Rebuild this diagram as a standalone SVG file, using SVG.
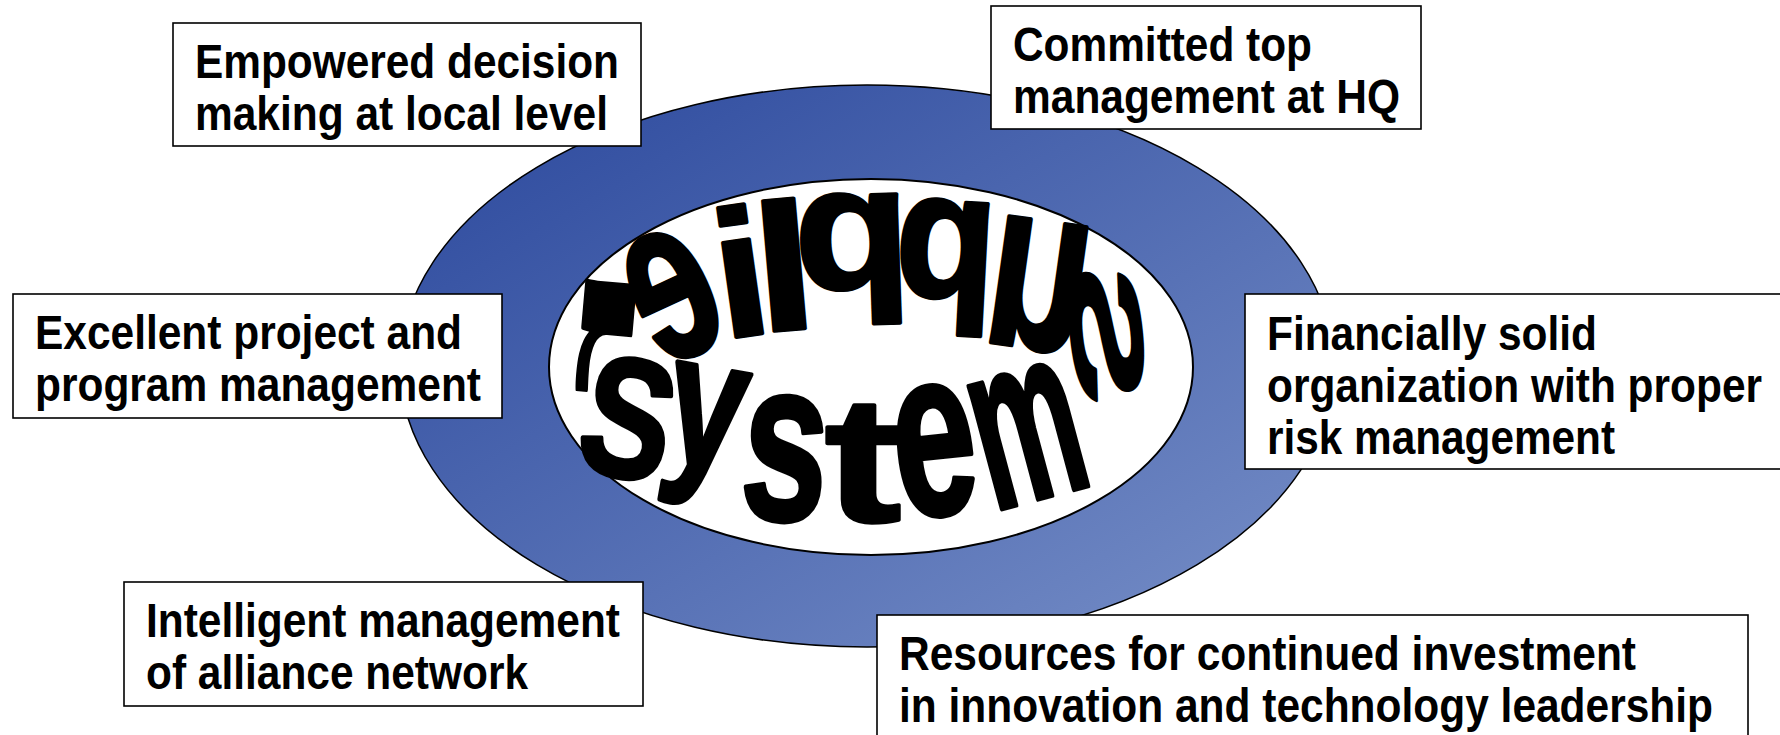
<svg xmlns="http://www.w3.org/2000/svg" width="1780" height="735" viewBox="0 0 1780 735">
<defs>
<linearGradient id="ringGrad" x1="0" y1="0" x2="1" y2="1">
<stop offset="0" stop-color="#2A479C"/>
<stop offset="1" stop-color="#7890C8"/>
</linearGradient>
<style>
.box{fill:#fff;stroke:#000;stroke-width:1.6}
.lbl{font-family:"Liberation Sans",Arial,sans-serif;font-weight:bold;font-size:48px;fill:#000}
.wa{font-family:"Liberation Sans",Arial,sans-serif;font-weight:bold;font-size:100px;fill:#000;stroke:#000;stroke-width:4;stroke-linejoin:round;vector-effect:non-scaling-stroke;text-anchor:middle}
</style>
</defs>
<rect width="1780" height="735" fill="#fff"/>
<g id="supplier-system">
<ellipse cx="867" cy="366" rx="467" ry="281" fill="url(#ringGrad)" stroke="#000" stroke-width="1.5"/>
<ellipse cx="871" cy="367" rx="322" ry="188" fill="#fff" stroke="#000" stroke-width="2"/>
<g id="wordart-system">
<text class="wa" y="36" transform="translate(629,416) rotate(12) scale(1.35,1.7)">S</text>
<text class="wa" y="15.5" transform="translate(702,438) rotate(10) scale(1.4,1.9)">y</text>
<text class="wa" y="26" transform="translate(785,460) rotate(4) scale(1.55,2.3)">s</text>
<text class="wa" y="34" transform="translate(863,460) scale(2.3,1.78)">t</text>
<text class="wa" y="26" transform="translate(935,452) rotate(-6) scale(1.5,2.4)">e</text>
<text class="wa" y="26.5" transform="translate(1028,436) rotate(-15) scale(1.2,2.4)">m</text>
</g>
<g id="wordart-supplier">
<text class="wa" y="36" transform="translate(1108,334) rotate(84) scale(-2.1,1.0)">S</text>
<text class="wa" y="25.5" transform="translate(1038,287) rotate(8) scale(-1.65,2.4)">u</text>
<text class="wa" y="16" transform="translate(945,268) rotate(3) scale(-1.65,1.8)">p</text>
<text class="wa" y="16" transform="translate(853,260) rotate(-2) scale(-1.9,1.75)">p</text>
<text class="wa" y="36" transform="translate(784,265) rotate(-5) scale(-2.2,1.8)">l</text>
<text class="wa" y="36" transform="translate(740,271) rotate(-8) scale(-1.9,1.8)">i</text>
<text class="wa" y="26" transform="translate(673,296) rotate(-25) scale(-1.5,2.35)">e</text>
<text class="wa" y="26.5" transform="translate(607,328) rotate(-85) scale(-3.5,0.95)">r</text>
</g>
</g>
<g id="node-empowered">
<rect class="box" x="173" y="23" width="468" height="123"/>
<text class="lbl" x="195" y="78" textLength="424" lengthAdjust="spacingAndGlyphs">Empowered decision</text>
<text class="lbl" x="195" y="130" textLength="413" lengthAdjust="spacingAndGlyphs">making at local level</text>
</g>
<g id="node-committed">
<rect class="box" x="991" y="6" width="430" height="123"/>
<text class="lbl" x="1013" y="61" textLength="299" lengthAdjust="spacingAndGlyphs">Committed top</text>
<text class="lbl" x="1013" y="113" textLength="387" lengthAdjust="spacingAndGlyphs">management at HQ</text>
</g>
<g id="node-excellent">
<rect class="box" x="13" y="294" width="489" height="124"/>
<text class="lbl" x="35" y="349" textLength="427" lengthAdjust="spacingAndGlyphs">Excellent project and</text>
<text class="lbl" x="35" y="401" textLength="446" lengthAdjust="spacingAndGlyphs">program management</text>
</g>
<g id="node-financially">
<rect class="box" x="1245" y="294" width="545" height="175"/>
<text class="lbl" x="1267" y="350" textLength="330" lengthAdjust="spacingAndGlyphs">Financially solid</text>
<text class="lbl" x="1267" y="402" textLength="495" lengthAdjust="spacingAndGlyphs">organization with proper</text>
<text class="lbl" x="1267" y="454" textLength="348" lengthAdjust="spacingAndGlyphs">risk management</text>
</g>
<g id="node-intelligent">
<rect class="box" x="124" y="582" width="519" height="124"/>
<text class="lbl" x="146" y="637" textLength="474" lengthAdjust="spacingAndGlyphs">Intelligent management</text>
<text class="lbl" x="146" y="689" textLength="382" lengthAdjust="spacingAndGlyphs">of alliance network</text>
</g>
<g id="node-resources">
<rect class="box" x="877" y="615" width="871" height="135"/>
<text class="lbl" x="899" y="670" textLength="737" lengthAdjust="spacingAndGlyphs">Resources for continued investment</text>
<text class="lbl" x="899" y="722" textLength="814" lengthAdjust="spacingAndGlyphs">in innovation and technology leadership</text>
</g>
<g id="connectors"/>
</svg>
